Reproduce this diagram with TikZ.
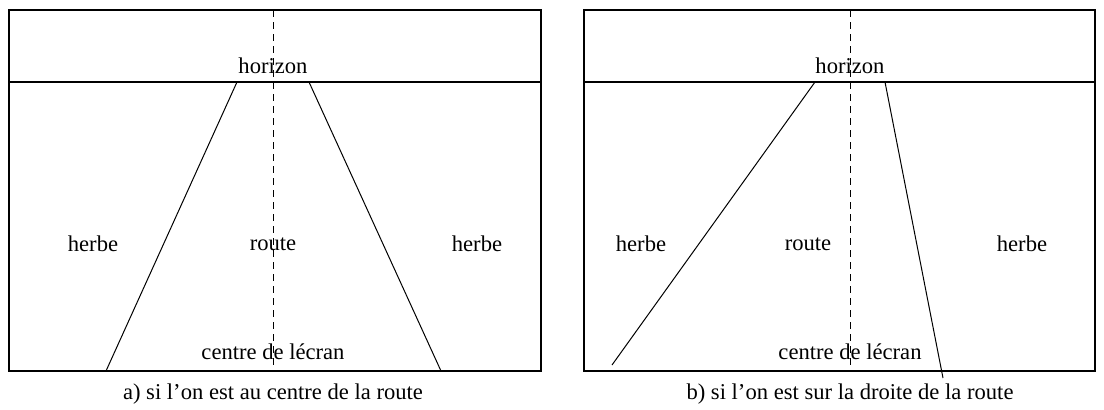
\documentclass[tikz,border=0pt]{standalone}
\usepackage{fontspec}
\setmainfont{Liberation Serif}
\begin{document}
\begin{tikzpicture}[x=0.5pt,y=-0.5pt,
  frame/.style={line width=0.6pt},
  roadline/.style={line width=0.5pt},
  centreline/.style={line width=0.5pt, dash pattern=on 3.5pt off 2.5pt},
  lbl/.style={font=\fontsize{11.3}{13}\selectfont, inner sep=1pt},
  captext/.style={font=\fontsize{11.3}{13}\selectfont, inner sep=1pt}]
\useasboundingbox (0,0) rectangle (1104,409);
% ---- panel a
\draw[frame] (9,10) rectangle (541,371);
\draw[frame] (9,82) -- (541,82);
\draw[centreline] (273,10) -- (273,371);
\draw[roadline] (237,82) -- (106,371);
\draw[roadline] (309,82) -- (441,371);
\node[lbl] (ahor) at (273,66) {horizon};
\node[lbl] (aherbeL) at (93,244) {herbe};
\node[lbl] (aroute) at (273,244) {route};
\node[lbl] (aherbeR) at (477,244) {herbe};
\node[lbl] (acentre) at (273,352) {centre de lécran};
\node[captext] (acap) at (273,394) {a) si l’on est au centre de la route};
% ---- panel b
\draw[frame] (584,10) rectangle (1095,371);
\draw[frame] (584,82) -- (1095,82);
\draw[centreline] (850,10) -- (850,371);
\draw[roadline] (815,82) -- (612,365);
\draw[roadline] (885,82) -- (943,378);
\node[lbl] (bhor) at (850,66) {horizon};
\node[lbl] (bherbeL) at (641,244) {herbe};
\node[lbl] (broute) at (808,244) {route};
\node[lbl] (bherbeR) at (1022,244) {herbe};
\node[lbl] (bcentre) at (850,352) {centre de lécran};
\node[captext] (bcap) at (850,394) {b) si l’on est sur la droite de la route};
\end{tikzpicture}
\end{document}
